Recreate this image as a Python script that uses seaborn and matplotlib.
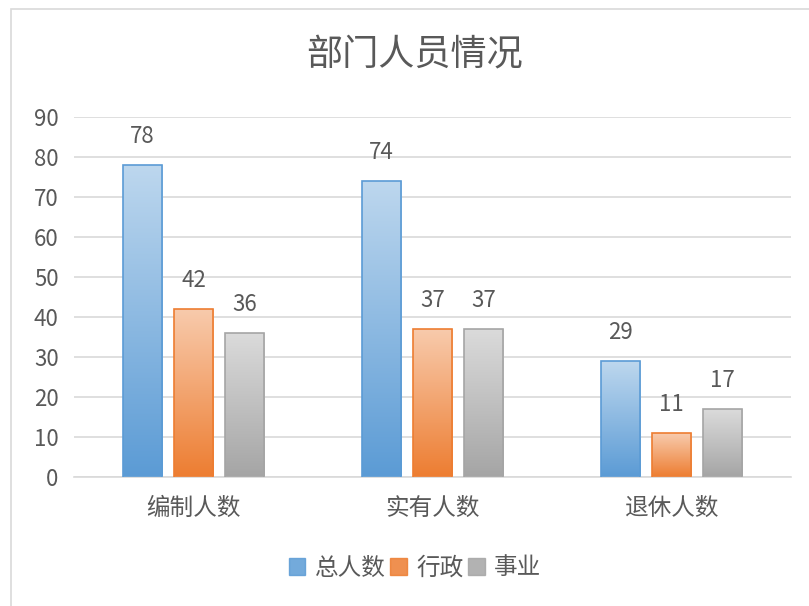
import matplotlib
matplotlib.use("Agg")
import matplotlib.pyplot as plt
import numpy as np
import pandas as pd
import seaborn as sns
from matplotlib.colors import LinearSegmentedColormap
from matplotlib.patches import Patch, Rectangle

# 数据
categories = ['编制人数', '实有人数', '退休人数']
series = ['总人数', '行政', '事业']
total = [78, 74, 29]
admin = [42, 37, 11]
career = [36, 37, 17]

# gradient colours: (top, bottom, edge)
colors = {
    '总人数': ('#BDD7EE', '#5B9BD5', '#5B9BD5'),
    '行政': ('#F8CBAD', '#ED7D31', '#ED7D31'),
    '事业': ('#DBDBDB', '#A5A5A5', '#A5A5A5'),
}

df = pd.DataFrame({
    'cat': categories * 3,
    'series': [s for s in series for _ in categories],
    'value': total + admin + career,
})

sns.set_theme(style='white')
plt.rcParams['font.family'] = ['Noto Sans CJK SC', 'DejaVu Sans']
text_color = '#595959'

fig = plt.figure(figsize=(8.09, 6.06), dpi=100)
ax = fig.add_axes([74 / 809, 1 - 477 / 606, 717 / 809, 360 / 606])

sns.barplot(data=df, x='cat', y='value', hue='series', hue_order=series,
            order=categories, width=0.64, gap=0.22,
            palette=[colors[s][1] for s in series], ax=ax, legend=False)

# apply vertical gradients to bars
for cont, s in zip(ax.containers, series):
    top, bottom, edge = colors[s]
    cmap = LinearSegmentedColormap.from_list(s, [bottom, top])
    grad = np.linspace(0, 1, 256).reshape(-1, 1)
    for p in cont.patches:
        x, w, h = p.get_x(), p.get_width(), p.get_height()
        im = ax.imshow(grad, extent=[x, x + w, 0, h], origin='lower',
                       aspect='auto', cmap=cmap, zorder=2)
        im.set_clip_path(p)
        p.set_facecolor('none')
        p.set_edgecolor(edge)
        p.set_linewidth(1.2)
        p.set_zorder(3)
    ax.bar_label(cont, padding=12, fontsize=16, color=text_color)

ax.set_xlim(-0.5, 2.5)
ax.set_ylim(0, 90)
ax.set_yticks(range(0, 91, 10))
ax.yaxis.grid(True, color='#D9D9D9', linewidth=1.2)
ax.set_axisbelow(True)
for side in ['top', 'right', 'left']:
    ax.spines[side].set_visible(False)
ax.spines['bottom'].set_color('#D9D9D9')
ax.spines['bottom'].set_linewidth(1.2)
ax.tick_params(axis='y', length=0, pad=11, labelsize=16, labelcolor=text_color)
ax.tick_params(axis='x', length=0, pad=14, labelsize=17, labelcolor=text_color)
ax.set_xlabel('')
ax.set_ylabel('')

fig.text(415 / 809, 1 - 55 / 606, '部门人员情况', ha='center', va='center',
         fontsize=26, color=text_color)

handles = [Patch(facecolor=colors[s][1], edgecolor=colors[s][2], alpha=0.85)
           for s in series]
fig.legend(handles, series, loc='center', bbox_to_anchor=(415 / 809, 1 - 568 / 606),
           ncol=3, frameon=False, fontsize=17, labelcolor=text_color,
           handlelength=0.7, handleheight=0.7, handletextpad=0.4,
           columnspacing=0.2)

# chart frame
fig.patches.append(Rectangle((11 / 809, -0.1), 1.2, 1 - 9 / 606 + 0.1,
                             transform=fig.transFigure, fill=False,
                             edgecolor='#D9D9D9', linewidth=1.2))

fig.savefig('out.png', dpi=100)
